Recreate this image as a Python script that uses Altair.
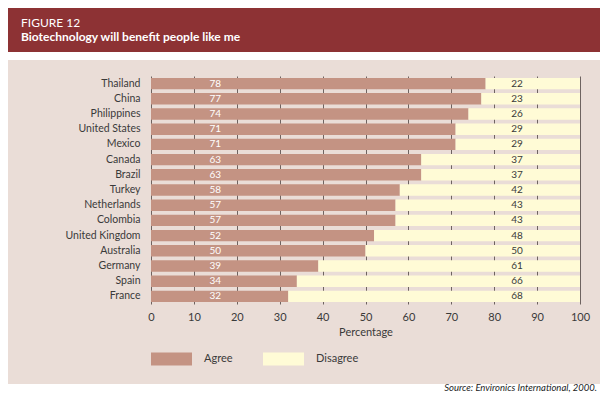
import altair as alt
import pandas as pd

countries = ["Thailand", "China", "Philippines", "United States", "Mexico", "Canada",
             "Brazil", "Turkey", "Netherlands", "Colombia", "United Kingdom",
             "Australia", "Germany", "Spain", "France"]
agree = [78, 77, 74, 71, 71, 63, 63, 58, 57, 57, 52, 50, 39, 34, 32]
disagree = [22, 23, 26, 29, 29, 37, 37, 42, 43, 43, 48, 50, 61, 66, 68]
responses = ["Agree", "Disagree"]
x_ticks = list(range(0, 101, 10))

rows = []
for c, a, d in zip(countries, agree, disagree):
    rows.append({"country": c, "response": "Agree", "value": a, "order": 0})
    rows.append({"country": c, "response": "Disagree", "value": d, "order": 1})
df = pd.DataFrame(rows)

FONT = "Lato"
HEADER = "#8d3234"
PANEL = "#eaddd7"
AGREE = "#c49383"
DISAGREE = "#fffbd6"
TXT = "#3a3a3a"

one = alt.Data(values=[{}])

y_enc = alt.Y("country:N", sort=countries, title=None,
              scale=alt.Scale(paddingInner=0.25, paddingOuter=0.125))

bars = alt.Chart(df).mark_bar(strokeWidth=0).encode(
    x=alt.X("value:Q", stack="zero",
            scale=alt.Scale(domain=[0, 100], nice=False),
            axis=alt.Axis(values=x_ticks, title="Percentage")),
    y=y_enc,
    color=alt.Color("response:N",
                    scale=alt.Scale(domain=responses, range=[AGREE, DISAGREE]),
                    legend=alt.Legend(title=None, orient="none", legendX=0, legendY=262,
                                      direction="horizontal",
                                      symbolType="M-1,-0.32H1V0.32H-1Z",
                                      symbolSize=1681, symbolStrokeWidth=0,
                                      symbolOpacity=1,
                                      labelFontSize=11, labelOffset=12,
                                      columnPadding=30, labelColor=TXT,
                                      labelFont=FONT, padding=0)),
    order=alt.Order("order:Q"),
)

agree_txt = alt.Chart(df).transform_filter(alt.datum.response == "Agree").mark_text(
    color="white", fontSize=10, font=FONT
).encode(x=alt.datum(15), y=y_enc, text="value:Q")

dis_txt = alt.Chart(df).transform_filter(alt.datum.response == "Disagree").mark_text(
    color=TXT, fontSize=10, font=FONT
).encode(x=alt.datum(85.3), y=y_enc, text="value:Q")

header = alt.Chart(one).mark_rect(color=HEADER).encode(
    x=alt.value(-160), x2=alt.value(470), y=alt.value(-80), y2=alt.value(-24))
strip_top = alt.Chart(one).mark_rect(color="white").encode(
    x=alt.value(-160), x2=alt.value(470), y=alt.value(-24), y2=alt.value(-16))
strip_bot = alt.Chart(one).mark_rect(color="white").encode(
    x=alt.value(-160), x2=alt.value(470), y=alt.value(308), y2=alt.value(330))

fig = alt.Chart(one).mark_text(color="white", fontSize=12, font=FONT, align="left",
                               baseline="alphabetic").encode(
    x=alt.value(-130), y=alt.value(-49), text=alt.value("FIGURE 12"))
sub = alt.Chart(one).mark_text(color="white", fontSize=12, font=FONT, fontWeight="bold",
                               align="left", baseline="alphabetic").encode(
    x=alt.value(-130), y=alt.value(-35),
    text=alt.value("Biotechnology will benefit people like me"))
src = alt.Chart(one).mark_text(color="#222", fontSize=9.5, font=FONT, fontStyle="italic",
                               align="right", baseline="alphabetic").encode(
    x=alt.value(446), y=alt.value(315),
    text=alt.value("Source: Environics International, 2000."))

chart = alt.layer(header, strip_top, strip_bot, bars, agree_txt, dis_txt,
                  fig, sub, src).properties(
    width=429, height=228,
    autosize=alt.AutoSizeParams(type="none"),
    padding={"left": 143, "top": 68, "right": 20, "bottom": 91},
    background=PANEL,
).configure_view(stroke=None).configure_axisX(
    grid=True, gridColor="#6e6360", gridWidth=1, ticks=False, tickSize=0, domain=False,
    labelFlush=False,
    labelFont=FONT, labelFontSize=11, labelColor=TXT, labelPadding=7,
    titleFont=FONT, titleFontSize=11, titleColor=TXT, titleFontWeight="normal",
    titlePadding=4,
).configure_axisY(
    grid=False, ticks=False, tickSize=0, domain=False,
    labelFont=FONT, labelFontSize=10.5, labelColor=TXT, labelPadding=11,
)

chart.save("out.html", embed_options={"renderer": "svg", "actions": False})
